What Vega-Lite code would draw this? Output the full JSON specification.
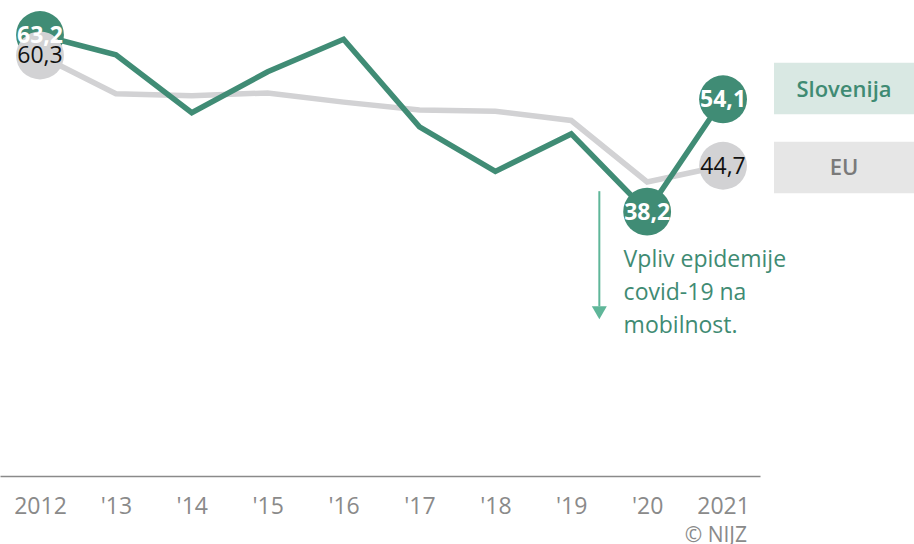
{
  "$schema": "https://vega.github.io/schema/vega-lite/v6.json",
  "padding": 0,
  "autosize": {"type": "pad"},
  "background": "white",
  "spacing": 14,
  "bounds": "flush",
  "config": {
    "view": {"stroke": null},
    "font": "Open Sans",
    "locale": {"number": {"decimal": ",", "thousands": ".", "grouping": [3], "currency": ["", " €"]}}
  },
  "hconcat": [
    {
      "width": 760,
      "height": 476,
      "title": {
        "text": "© NIJZ",
        "orient": "bottom",
        "anchor": "end",
        "frame": "group",
        "fontSize": 21,
        "fontWeight": "normal",
        "color": "#8a8a8a",
        "font": "Open Sans",
        "dx": -13,
        "offset": 7
      },
      "data": {
        "values": [
          {"year": 2012, "series": "EU", "value": 60.3},
          {"year": 2013, "series": "EU", "value": 54.9},
          {"year": 2014, "series": "EU", "value": 54.6},
          {"year": 2015, "series": "EU", "value": 55.0},
          {"year": 2016, "series": "EU", "value": 53.7},
          {"year": 2017, "series": "EU", "value": 52.6},
          {"year": 2018, "series": "EU", "value": 52.4},
          {"year": 2019, "series": "EU", "value": 51.1},
          {"year": 2020, "series": "EU", "value": 42.4},
          {"year": 2021, "series": "EU", "value": 44.7},
          {"year": 2012, "series": "Slovenija", "value": 63.2},
          {"year": 2013, "series": "Slovenija", "value": 60.4},
          {"year": 2014, "series": "Slovenija", "value": 52.2},
          {"year": 2015, "series": "Slovenija", "value": 58.0},
          {"year": 2016, "series": "Slovenija", "value": 62.6},
          {"year": 2017, "series": "Slovenija", "value": 50.2},
          {"year": 2018, "series": "Slovenija", "value": 43.9},
          {"year": 2019, "series": "Slovenija", "value": 49.2},
          {"year": 2020, "series": "Slovenija", "value": 38.2},
          {"year": 2021, "series": "Slovenija", "value": 54.1}
        ]
      },
      "layer": [
        {
          "encoding": {
            "x": {
              "field": "year",
              "type": "quantitative",
              "scale": {"domain": [2011.473, 2021.487], "nice": false, "zero": false},
              "axis": {
                "title": null,
                "values": [2012, 2013, 2014, 2015, 2016, 2017, 2018, 2019, 2020, 2021],
                "labelExpr": "datum.value == 2012 || datum.value == 2021 ? '' + datum.value : \"'\" + substring('' + datum.value, 2)",
                "grid": false,
                "ticks": false,
                "domainColor": "#8a8a8a",
                "domainWidth": 1.5,
                "labelFont": "Open Sans",
                "labelFontSize": 23,
                "labelColor": "#8a8a8a",
                "labelBaseline": "alphabetic",
                "labelPadding": 37,
                "labelFlush": false,
                "labelOverlap": false
              }
            },
            "y": {
              "field": "value",
              "type": "quantitative",
              "scale": {"domain": [0.8, 68.15], "nice": false, "zero": false},
              "axis": null
            }
          },
          "layer": [
            {
              "transform": [{"filter": "datum.series === 'EU'"}],
              "mark": {"type": "line", "strokeWidth": 5.5, "color": "#d2d2d4", "strokeJoin": "miter"}
            },
            {
              "transform": [{"filter": "datum.series === 'Slovenija'"}],
              "mark": {"type": "line", "strokeWidth": 5.5, "color": "#408c75", "strokeJoin": "miter"}
            },
            {
              "transform": [{"filter": "datum.year == 2012 || datum.year == 2021 || (datum.series === 'Slovenija' && datum.year == 2020)"}],
              "mark": {"type": "point", "filled": true, "size": 2290, "opacity": 1, "strokeWidth": 0},
              "encoding": {
                "order": {"field": "series", "sort": "descending"},
                "color": {
                  "field": "series",
                  "type": "nominal",
                  "scale": {"domain": ["Slovenija", "EU"], "range": ["#408c75", "#d2d2d4"]},
                  "legend": null
                }
              }
            },
            {
              "transform": [{"filter": "datum.series === 'Slovenija' && (datum.year == 2012 || datum.year == 2020 || datum.year == 2021)"}],
              "mark": {"type": "text", "font": "Open Sans", "fontSize": 23, "fontWeight": "bold", "color": "white", "baseline": "middle", "align": "center", "dy": 1},
              "encoding": {"text": {"field": "value", "type": "quantitative", "format": ".1f"}}
            },
            {
              "transform": [{"filter": "datum.series === 'EU' && (datum.year == 2012 || datum.year == 2021)"}],
              "mark": {"type": "text", "font": "Open Sans", "fontSize": 23, "fontWeight": "normal", "color": "#111111", "baseline": "middle", "align": "center", "dy": 1},
              "encoding": {"text": {"field": "value", "type": "quantitative", "format": ".1f"}}
            }
          ]
        },
        {
          "data": {"values": [{"note": "covid"}]},
          "mark": {"type": "rule", "color": "#5fb699", "strokeWidth": 2},
          "encoding": {
            "x": {"datum": 2019.37, "type": "quantitative"},
            "y": {"datum": 41.1, "type": "quantitative", "axis": null},
            "y2": {"datum": 24.8}
          }
        },
        {
          "data": {"values": [{"note": "covid"}]},
          "mark": {"type": "point", "shape": "triangle-down", "filled": true, "size": 225, "color": "#5fb699", "opacity": 1, "strokeWidth": 0},
          "encoding": {
            "x": {"datum": 2019.37, "type": "quantitative"},
            "y": {"datum": 23.9, "type": "quantitative", "axis": null}
          }
        },
        {
          "data": {"values": [{"note": "covid"}]},
          "mark": {"type": "text", "font": "Open Sans", "fontSize": 23, "color": "#3f8b73", "align": "left", "baseline": "alphabetic", "lineHeight": 33},
          "encoding": {
            "x": {"datum": 2019.69, "type": "quantitative"},
            "y": {"datum": 30.35, "type": "quantitative", "axis": null},
            "text": {"value": ["Vpliv epidemije", "covid-19 na", "mobilnost."]}
          }
        }
      ]
    },
    {
      "width": 140,
      "height": 256,
      "data": {"values": [{"series": "Slovenija"}, {"series": "EU"}]},
      "encoding": {
        "y": {
          "field": "series",
          "type": "nominal",
          "scale": {"domain": ["Slovenija", "EU"], "paddingInner": 0.347, "paddingOuter": 0.794},
          "axis": null
        }
      },
      "layer": [
        {
          "mark": {"type": "bar", "opacity": 1},
          "encoding": {
            "x": {"datum": 1, "type": "quantitative", "scale": {"domain": [0, 1], "nice": false}, "axis": null},
            "color": {
              "field": "series",
              "type": "nominal",
              "scale": {"domain": ["Slovenija", "EU"], "range": ["#d9e8e3", "#e6e6e6"]},
              "legend": null
            }
          }
        },
        {
          "mark": {"type": "text", "font": "Open Sans", "fontSize": 22, "fontWeight": 600, "align": "center", "baseline": "middle", "dy": 1},
          "encoding": {
            "x": {"datum": 0.5, "type": "quantitative"},
            "text": {"field": "series", "type": "nominal"},
            "color": {
              "field": "series",
              "type": "nominal",
              "scale": {"domain": ["Slovenija", "EU"], "range": ["#3f8b73", "#7a7a7a"]},
              "legend": null
            }
          }
        }
      ],
      "resolve": {"scale": {"color": "independent"}}
    }
  ]
}
